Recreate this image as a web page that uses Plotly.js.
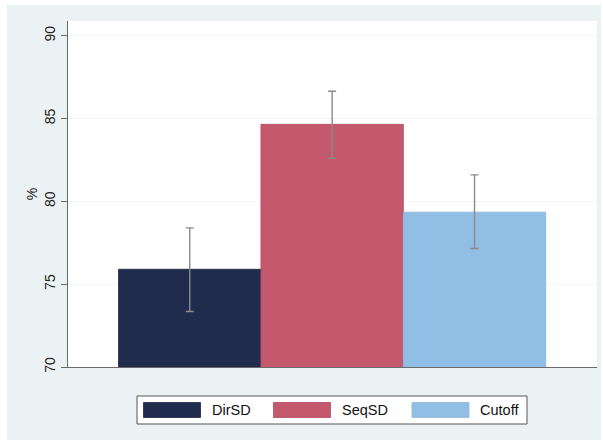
<!DOCTYPE html>
<html>
<head>
<meta charset="utf-8">
<script src="https://cdn.plot.ly/plotly-3.0.1.min.js"></script>
<style>
  html, body { margin: 0; padding: 0; background: #ffffff; }
  #panel { position: absolute; left: 7px; top: 5px; width: 594px; height: 435px; background: #eaf2f3; }
  #chart { position: absolute; left: 0; top: 0; width: 603px; height: 443px; }
</style>
</head>
<body>
<div id="panel"></div>
<div id="chart"></div>
<script>
// Group means (%) with lower/upper confidence limits
const groups = ["DirSD", "SeqSD", "Cutoff"];
const means = [75.9, 84.65, 79.35];
const upper = [78.4, 86.65, 81.6];
const lower = [73.35, 82.6, 77.15];
const colors = ["#202b4e", "#c4596e", "#90bee4"];
const edgeColors = ["#1a2444", "#b8485f", "#8ab8df"];
const yTicks = [70, 75, 80, 85, 90];

const traces = groups.map((g, i) => ({
  type: "bar",
  name: g,
  x: [i],
  y: [means[i]],
  width: 1,
  marker: { color: colors[i], line: { color: edgeColors[i], width: 0.8 } },
  error_y: {
    type: "data",
    symmetric: false,
    array: [upper[i] - means[i]],
    arrayminus: [means[i] - lower[i]],
    color: "#8a8a8a",
    thickness: 1.4,
    width: 4
  },
  showlegend: false,
  hoverinfo: "y"
}));

// Legend box drawn below the plot: wide colour swatches with labels
const W = 603, H = 443;
const m = { l: 68, r: 6, t: 21, b: 76 };
const pw = W - m.l - m.r, ph = H - m.t - m.b;
const px = v => (v - m.l) / pw;
const py = v => (H - m.b - v) / ph;

const shapes = [{
  type: "rect", xref: "paper", yref: "paper",
  x0: px(137), x1: px(527), y0: py(424), y1: py(396),
  fillcolor: "#ffffff", line: { color: "#555555", width: 1 }
}];
const annotations = [];
const swatchX = [143.5, 273.5, 412];
const labelX = [210, 340, 478];
groups.forEach((g, i) => {
  shapes.push({
    type: "rect", xref: "paper", yref: "paper",
    x0: px(swatchX[i]), x1: px(swatchX[i] + 57), y0: py(417.5), y1: py(402.5),
    fillcolor: colors[i], line: { color: edgeColors[i], width: 0.8 }
  });
  annotations.push({
    xref: "paper", yref: "paper", x: px(labelX[i]), y: py(410),
    xanchor: "left", yanchor: "middle", text: g, showarrow: false,
    font: { family: "Liberation Sans, Arial, sans-serif", size: 14.5, color: "#111111" }
  });
});

const layout = {
  width: W, height: H,
  margin: m,
  paper_bgcolor: "rgba(0,0,0,0)",
  plot_bgcolor: "#ffffff",
  barmode: "overlay",
  showlegend: false,
  font: { family: "Liberation Sans, Arial, sans-serif", color: "#222222" },
  xaxis: {
    range: [-0.855, 2.86],
    showticklabels: false, ticks: "", showgrid: false, zeroline: false,
    showline: true, linecolor: "#6b6b6b", linewidth: 1.3, fixedrange: true
  },
  yaxis: {
    range: [70, 90.89],
    tickvals: yTicks,
    ticktext: yTicks.map(String),
    tickangle: -90,
    ticks: "outside", ticklen: 6, tickcolor: "#6b6b6b", tickwidth: 1,
    tickfont: { size: 14, color: "#222222" },
    showgrid: true, gridcolor: "#f1f5f6", gridwidth: 1,
    zeroline: false,
    showline: true, linecolor: "#6b6b6b", linewidth: 1.3,
    title: { text: "%", font: { size: 14, color: "#222222" }, standoff: 1 },
    fixedrange: true
  },
  shapes: shapes,
  annotations: annotations
};

Plotly.newPlot("chart", traces, layout, { displayModeBar: false, staticPlot: true });
</script>
</body>
</html>
